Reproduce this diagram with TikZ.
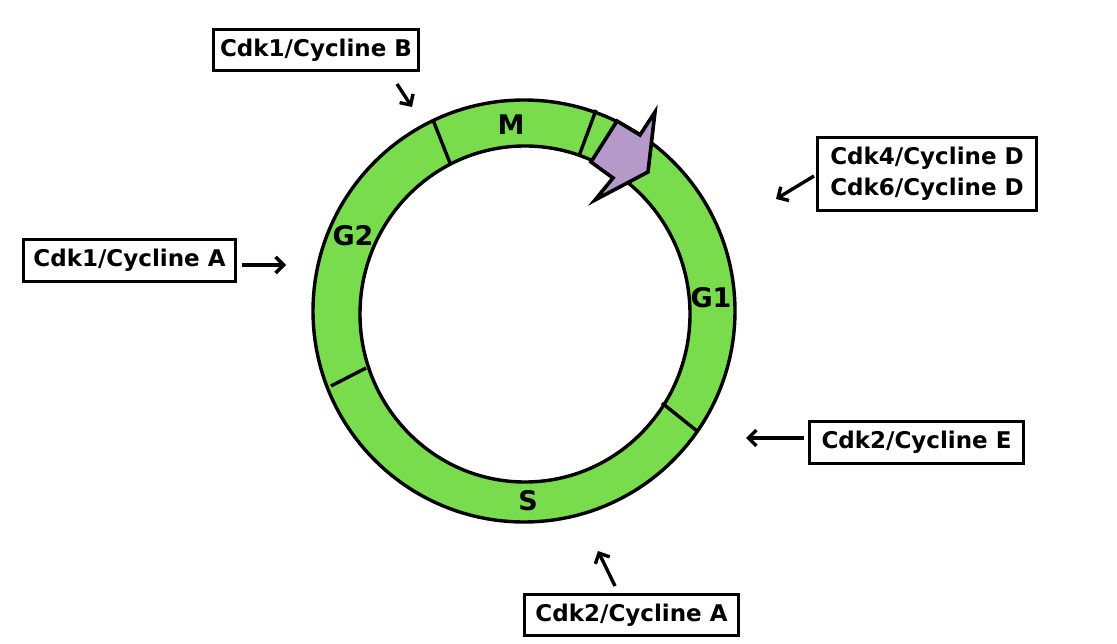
\documentclass[tikz,border=0pt]{standalone}
\usepackage{fontspec}
\setmainfont{DejaVu Sans}
\usetikzlibrary{arrows.meta}
\definecolor{ringgreen}{RGB}{120,220,76}
\definecolor{arrowpurple}{RGB}{181,153,200}
\tikzset{
  cbox/.style={draw=black, line width=3.6pt, fill=white, inner sep=0pt, align=center,
    font=\fontsize{23}{31}\selectfont\bfseries},
  phase/.style={font=\fontsize{27}{30}\selectfont\bfseries, inner sep=0pt},
  ptr/.style={line width=3.4pt, -{Straight Barb[length=8pt,width=16pt]}},
  ringline/.style={line width=3.4pt, black},
}
\begin{document}
\begin{tikzpicture}[x=1pt,y=-1pt]
\useasboundingbox (0,0) rectangle (1117,644);
% ring
\fill[ringgreen, even odd rule] (524,311) ellipse [x radius=211, y radius=211]
  (525,314) ellipse [x radius=165, y radius=168];
\draw[ringline] (524,311) ellipse [x radius=211, y radius=211];
\draw[ringline] (525,314) ellipse [x radius=165, y radius=168];
% dividers
\draw[ringline] (433,120) -- (450,163);
\draw[ringline] (596,110) -- (579,156);
\draw[ringline] (331,386) -- (366,368);
\draw[ringline] (662,403) -- (697,431);
% purple arrow
\draw[line width=3.6pt, fill=arrowpurple, line join=miter]
  (617,121) -- (640,135) -- (655,112) -- (648,172) -- (595,200) -- (613,178) -- (591,162) -- cycle;
% phase labels
\node[phase] (m) at (511,125) {M};
\node[phase] (g2) at (353,236) {G2};
\node[phase] (g1) at (711,298) {G1};
\node[phase] (s) at (528,501) {S};
% boxes
\node[cbox, minimum width=205, minimum height=41] (cb) at (316,50) {Cdk1/Cycline B};
\node[cbox, minimum width=219, minimum height=73] (cd) at (927,174) {Cdk4/Cycline D\\Cdk6/Cycline D};
\node[cbox, minimum width=214, minimum height=42] (ce) at (916.5,442.5) {Cdk2/Cycline E};
\node[cbox, minimum width=212, minimum height=42] (ca1) at (129.5,260.5) {Cdk1/Cycline A};
\node[cbox, minimum width=214, minimum height=41] (ca2) at (631.5,615) {Cdk2/Cycline A};
% pointers
\coordinate (pb1) at (397,84); \coordinate (pb2) at (412,107);
\draw[ptr] (pb1) -- (pb2);
\coordinate (pd1) at (814,176); \coordinate (pd2) at (776,199);
\draw[ptr] (pd1) -- (pd2);
\coordinate (pe1) at (804,438); \coordinate (pe2) at (746,438);
\draw[ptr] (pe1) -- (pe2);
\coordinate (pa1) at (242,265); \coordinate (pa2) at (286,265);
\draw[ptr] (pa1) -- (pa2);
\coordinate (pc1) at (615,586); \coordinate (pc2) at (598,551);
\draw[ptr] (pc1) -- (pc2);
\end{tikzpicture}
\end{document}
